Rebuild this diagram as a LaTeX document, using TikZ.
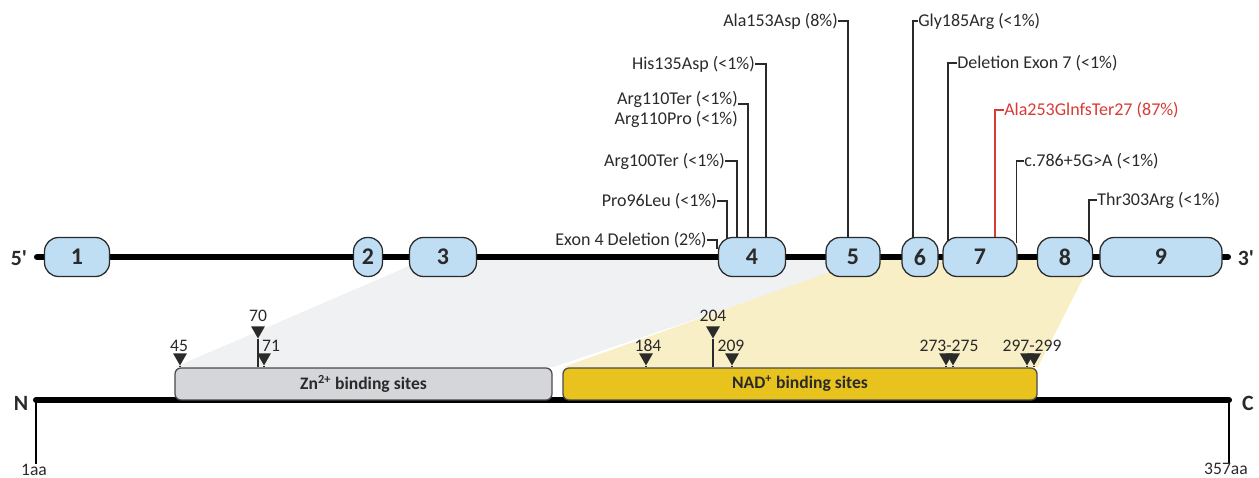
\documentclass[tikz,border=0pt]{standalone}
\usepackage{fontspec}
\setmainfont{Carlito}
\usetikzlibrary{shapes.geometric,backgrounds}

\definecolor{exonblue}{HTML}{BFDDF3}
\definecolor{znfill}{HTML}{D4D6D9}
\definecolor{nadfill}{HTML}{E8C31E}
\definecolor{znshade}{HTML}{F0F1F3}
\definecolor{nadshade}{HTML}{F8EFC6}
\definecolor{mutred}{HTML}{D63B34}
\definecolor{ink}{HTML}{2A2A2A}
\newcommand{\pxu}{0.025cm}

\tikzset{
	strand/.style={draw=black, line width=4.3pt, line cap=round},
	exon/.style={draw=ink, line width=0.9pt, fill=exonblue, rounded corners=14*\pxu, minimum height=39*\pxu, inner sep=0pt, text=ink, font=\fontsize{17}{20}\selectfont\bfseries},
	tag/.style={inner sep=0pt, text=ink, font=\fontsize{12.8}{15}\selectfont},
	leader/.style={draw=ink, line width=0.9pt},
	endlbl/.style={inner sep=0pt, text=ink, font=\fontsize{15.5}{18}\selectfont\bfseries},
	dombox/.style={draw=ink!85, line width=0.9pt, rounded corners=6*\pxu, minimum height=32*\pxu, inner sep=0pt, text=ink, font=\fontsize{12.5}{15}\selectfont\bfseries},
	site/.style={regular polygon, regular polygon sides=3, shape border rotate=180, fill=ink, inner sep=0pt, minimum size=16*\pxu, anchor=corner 1},
	sitenum/.style={inner sep=0pt, text=ink, font=\fontsize{12.5}{15}\selectfont},
	stem/.style={draw=ink, line width=1.2pt},
	aatick/.style={draw=black, line width=1.6pt},
}

\begin{document}
\begin{tikzpicture}[x=\pxu, y=-\pxu]
	\useasboundingbox (0,0) rectangle (1259,478);

	\node[tag, anchor=east] (ala153) at (838,21) {Ala153Asp (8\%)};
	\node[tag, anchor=east] (his135) at (755,64) {His135Asp (<1\%)};
	\node[tag, anchor=east] (arg110ter) at (738,99) {Arg110Ter (<1\%)};
	\node[tag, anchor=east] (arg110pro) at (738,119) {Arg110Pro (<1\%)};
	\node[tag, anchor=east] (arg100) at (725,161) {Arg100Ter (<1\%)};
	\node[tag, anchor=east] (pro96) at (717,201) {Pro96Leu (<1\%)};
	\node[tag, anchor=east] (exdel4) at (707,240) {Exon 4 Deletion (2\%)};
	\node[tag, anchor=west] (gly185) at (918,21) {Gly185Arg (<1\%)};
	\node[tag, anchor=west] (exdel7) at (957,63) {Deletion Exon 7 (<1\%)};
	\node[tag, anchor=west, text=mutred] (ala253) at (1004,110) {Ala253GlnfsTer27 (87\%)};
	\node[tag, anchor=west] (c786) at (1024,161) {c.786+5G>A (<1\%)};
	\node[tag, anchor=west] (thr303) at (1097,200) {Thr303Arg (<1\%)};

	\coordinate (g5) at (37,257);
	\coordinate (g3) at (1228,257);
	\node[endlbl] (five) at (19,258) {5\textquotesingle};
	\node[endlbl] (three) at (1246,258) {3\textquotesingle};

	\node[exon, minimum width=65*\pxu] (ex1) at (77,257) {1};
	\node[exon, minimum width=29*\pxu] (ex2) at (368,257) {2};
	\node[exon, minimum width=67*\pxu] (ex3) at (443,257) {3};
	\node[exon, minimum width=67*\pxu] (ex4) at (752,257) {4};
	\node[exon, minimum width=54*\pxu] (ex5) at (853,257) {5};
	\node[exon, minimum width=36*\pxu] (ex6) at (920,257) {6};
	\node[exon, minimum width=74*\pxu] (ex7) at (980,257) {7};
	\node[exon, minimum width=55*\pxu] (ex8) at (1065,257) {8};
	\node[exon, minimum width=122*\pxu] (ex9) at (1161,257) {9};

	\coordinate (nterm) at (36,400);
	\coordinate (cterm) at (1229,400);
	\node[endlbl] (nlbl) at (21,403) {N};
	\node[endlbl] (clbl) at (1248,403) {C};
	\node[sitenum] (aa1) at (34,470) {1aa};
	\node[sitenum] (aa357) at (1226,469) {357aa};

	\node[dombox, fill=znfill, minimum width=377*\pxu] (zn) at (363.5,384) {Zn\textsuperscript{2+} binding sites};
	\node[dombox, fill=nadfill, minimum width=474*\pxu] (nad) at (800,384) {NAD\textsuperscript{+} binding sites};

	\node[site] (t45) at (180,366) {};
	\node[site] (t70) at (258,339) {};
	\node[site] (t71) at (264,366) {};
	\node[site] (t184) at (646,366) {};
	\node[site] (t204) at (713,339) {};
	\node[site] (t209) at (732,366) {};
	\node[site] (t273) at (946,366) {};
	\node[site] (t275) at (953,366) {};
	\node[site] (t297) at (1027,366) {};
	\node[site] (t299) at (1034,366) {};
	\node[sitenum] (n45) at (179,346) {45};
	\node[sitenum] (n70) at (258,316) {70};
	\node[sitenum] (n71) at (271,346) {71};
	\node[sitenum] (n184) at (648,346) {184};
	\node[sitenum] (n204) at (713,316) {204};
	\node[sitenum] (n209) at (731,346) {209};
	\node[sitenum] (n273) at (949,346) {273-275};
	\node[sitenum] (n297) at (1032,346) {297-299};

	\begin{scope}[on background layer]
		\fill[znshade] (430,257) -- (880,257) -- (zn.north east) -- (zn.north west) -- cycle;
		\fill[nadshade] (872,257) -- (1094,257) -- (nad.north east) -- (nad.north west) -- cycle;
		\draw[leader] (ala153.east) -| ([xshift=-5*\pxu]ex5.center);
		\draw[leader] (his135.east) -| ([xshift=14*\pxu]ex4.center);
		\draw[leader] (arg110ter.base east) -| ([xshift=-4*\pxu]ex4.center);
		\draw[leader] (arg100.east) -| ([xshift=-15*\pxu]ex4.center);
		\draw[leader] (pro96.east) -| ([xshift=-25*\pxu]ex4.center);
		\draw[leader] (exdel4.east) -| ([xshift=-1*\pxu, yshift=8*\pxu]ex4.west);
		\draw[leader] (gly185.west) -| ([xshift=-7*\pxu]ex6.center);
		\draw[leader] (exdel7.west) -| ([xshift=-32*\pxu]ex7.center);
		\draw[leader, draw=mutred] (ala253.west) -| ([xshift=15*\pxu]ex7.center);
		\draw[leader] (c786.west) -| ([xshift=-1*\pxu, yshift=14*\pxu]ex7.east);
		\draw[leader] (thr303.west) -| ([xshift=24*\pxu]ex8.center);
		\draw[strand] (g5) -- (g3);
		\draw[strand] (nterm) -- (cterm);
		\draw[aatick] (nterm) -- (nterm |- aa1.north);
		\draw[aatick] (cterm) -- (cterm |- aa357.north);
	\end{scope}

	\draw[stem] (t45.corner 1) -- (t45.corner 1 |- zn.north);
	\draw[stem] (t70.corner 1) -- (t70.corner 1 |- zn.north);
	\draw[stem] (t71.corner 1) -- (t71.corner 1 |- zn.north);
	\draw[stem] (t184.corner 1) -- (t184.corner 1 |- nad.north);
	\draw[stem] (t204.corner 1) -- (t204.corner 1 |- nad.north);
	\draw[stem] (t209.corner 1) -- (t209.corner 1 |- nad.north);
	\draw[stem] (t273.corner 1) -- (t273.corner 1 |- nad.north);
	\draw[stem] (t275.corner 1) -- (t275.corner 1 |- nad.north);
	\draw[stem] (t297.corner 1) -- (t297.corner 1 |- nad.north);
	\draw[stem] (t299.corner 1) -- (t299.corner 1 |- nad.north);
\end{tikzpicture}
\end{document}
